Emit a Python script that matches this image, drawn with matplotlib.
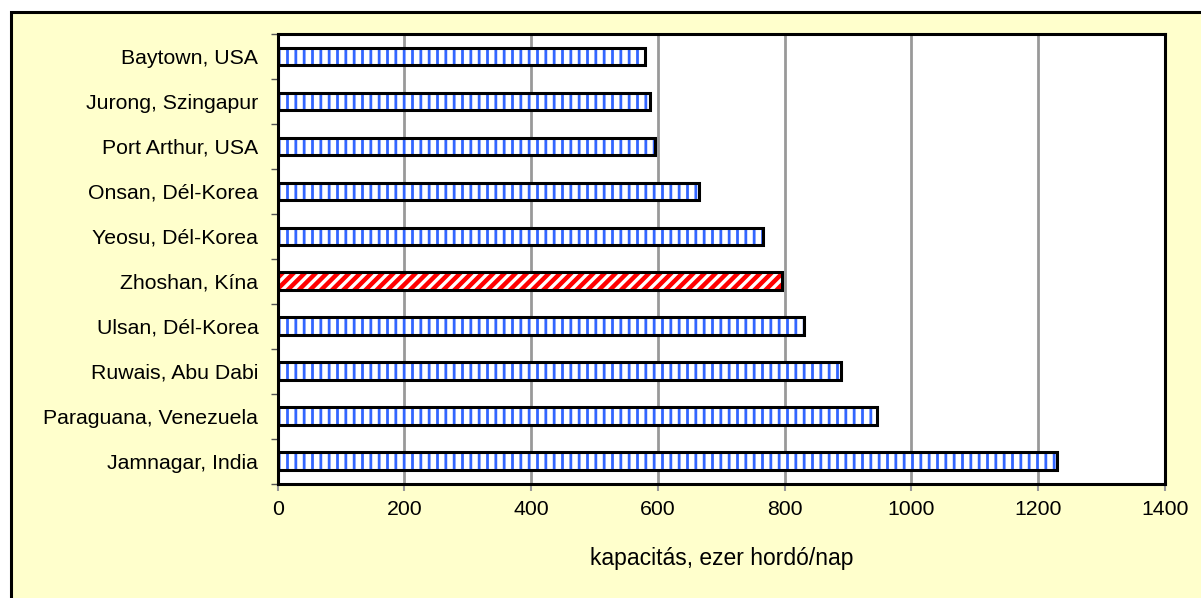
import matplotlib
matplotlib.use("Agg")
import matplotlib.pyplot as plt
from matplotlib.patches import Rectangle
import numpy as np

categories = ["Jamnagar, India", "Paraguana, Venezuela", "Ruwais, Abu Dabi",
              "Ulsan, Dél-Korea", "Zhoshan, Kína", "Yeosu, Dél-Korea",
              "Onsan, Dél-Korea", "Port Arthur, USA", "Jurong, Szingapur",
              "Baytown, USA"]
values = [1229, 946, 889, 830, 795, 766, 665, 596, 587, 579]
highlight = "Zhoshan, Kína"
xticks = [0, 200, 400, 600, 800, 1000, 1200, 1400]
xlabel = "kapacitás, ezer hordó/nap"

plt.rcParams['font.family'] = ['Liberation Sans', 'DejaVu Sans']

W, H = 1201, 598
fig = plt.figure(figsize=(W / 100, H / 100), dpi=100)
fig.patch.set_facecolor("white")

# outer chart area box
fig.patches.append(Rectangle((11 / W, -0.05), 1.1, 1 - 12 / H + 0.05,
                             transform=fig.transFigure, facecolor="#ffffcc",
                             edgecolor="black", linewidth=2.2, zorder=-10))

ax = fig.add_axes([277.7 / W, 1 - 483.5 / H, (1165 - 277.7) / W, (483.5 - 34) / H])
ax.set_zorder(1)
ax.set_facecolor("white")

y = np.arange(len(categories))
bh = 0.39

def set_hlw(p, lw):
    try:
        p.set_hatch_linewidth(lw)
    except Exception:
        p._hatch_linewidth = lw

for yi, v, c in zip(y, values, categories):
    if c == highlight:
        hatch, hc, hlw = "///", "#ff0000", 3.2
    else:
        hatch, hc, hlw = "||", "#3366ff", 2.0
    b = ax.barh(yi, v, height=bh, color="white", edgecolor=hc, hatch=hatch,
                linewidth=0, zorder=2)
    for p in b.patches:
        set_hlw(p, hlw)
    ax.barh(yi, v, height=bh, fill=False, edgecolor="black", linewidth=2.2, zorder=3)

fs = 15.3
ax.set_xlim(0, 1400)
ax.set_ylim(-0.5, len(categories) - 0.5)
ax.set_xticks(xticks)
ax.set_xticklabels([str(t) for t in xticks], fontsize=fs)
ax.set_yticks(y)
ax.set_yticklabels(categories, fontsize=fs)
ax.set_yticks(np.arange(len(categories) + 1) - 0.5, minor=True)
ax.tick_params(axis="y", which="major", length=0, pad=14)
ax.tick_params(axis="y", which="minor", length=5, color="#555555", width=1, direction="out")
ax.tick_params(axis="x", which="major", length=5, color="#999999", width=1.5, pad=7)

ax.grid(axis="x", color="#999999", linewidth=2, zorder=1)
ax.set_axisbelow(True)
for s in ax.spines.values():
    s.set_color("black")
    s.set_linewidth(2.2)
    s.set_zorder(4)

ax.set_xlabel(xlabel, fontsize=16.5, labelpad=20)

fig.savefig("out.png", dpi=100)
